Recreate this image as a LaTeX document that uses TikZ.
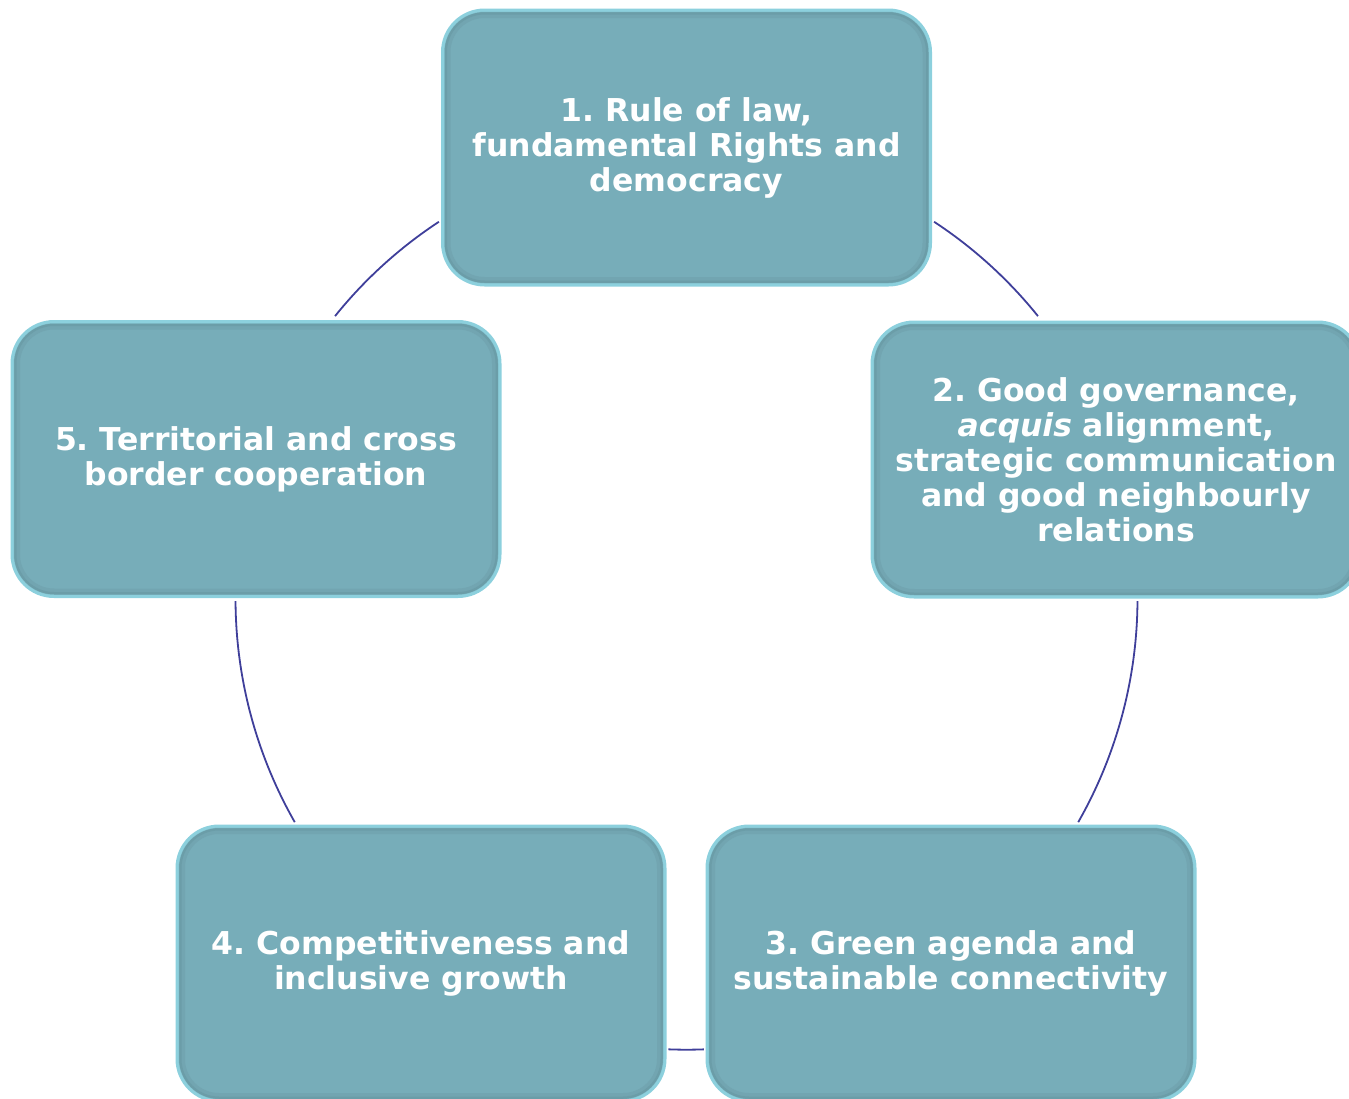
\documentclass[tikz,border=0pt]{standalone}
\usepackage{fontspec}
\setmainfont{DejaVu Sans}
\frenchspacing
\definecolor{boxfill}{HTML}{77ADB9}
\definecolor{boxdark}{HTML}{6B9DA8}
\definecolor{boxmid}{HTML}{72A5B1}
\definecolor{rim}{HTML}{8CD0DD}
\definecolor{arcline}{HTML}{3F3F9A}
\begin{document}
\begin{tikzpicture}[x=1pt,y=-1pt,
  pillar/.style={rounded corners=42pt, minimum width=488pt, minimum height=275pt,
    inner sep=0pt, fill=boxfill, draw=rim, line width=3pt, text=white, align=center,
    font=\bfseries\fontsize{31.5}{35}\selectfont,
    path picture={
      \draw[line width=16pt, boxmid, rounded corners=42pt]
        (path picture bounding box.south west) rectangle (path picture bounding box.north east);
      \draw[line width=9pt, boxdark, rounded corners=42pt]
        (path picture bounding box.south west) rectangle (path picture bounding box.north east);
      \draw[line width=4pt, rim!70!boxdark, rounded corners=42pt]
        (path picture bounding box.south west) rectangle (path picture bounding box.north east);
    }},
  ring/.style={draw=arcline, line width=1.8pt}]
\useasboundingbox (0,0) rectangle (1349,1098);
\clip (0,0) rectangle (1349,1098);
\coordinate (c) at (686.5,598.7);
% arcs of the ring, between the pillars
\draw[ring] ([shift={(218.8:451)}]c) arc[start angle=218.8, end angle=236.7, radius=451];
\draw[ring] ([shift={(303.3:451)}]c) arc[start angle=303.3, end angle=321.2, radius=451];
\draw[ring] ([shift={(0.3:451)}]c) arc[start angle=0.3, end angle=29.7, radius=451];
\draw[ring] ([shift={(87.8:451)}]c) arc[start angle=87.8, end angle=92.3, radius=451];
\draw[ring] ([shift={(150.3:451)}]c) arc[start angle=150.3, end angle=179.7, radius=451];
% pillars
\node[pillar] (p1) at (686.5,147.5) {1. Rule of law,\\fundamental Rights and\\democracy};
\node[pillar] (p2) at (1116,459.5) {2. Good governance,\\\textit{acquis} alignment,\\strategic communication\\and good neighbourly\\relations};
\node[pillar] (p3) at (951,963.5) {3. Green agenda and\\sustainable connectivity};
\node[pillar] (p4) at (421,963.5) {4. Competitiveness and\\inclusive growth};
\node[pillar] (p5) at (256,459) {5. Territorial and cross\\border cooperation};
\end{tikzpicture}
\end{document}
